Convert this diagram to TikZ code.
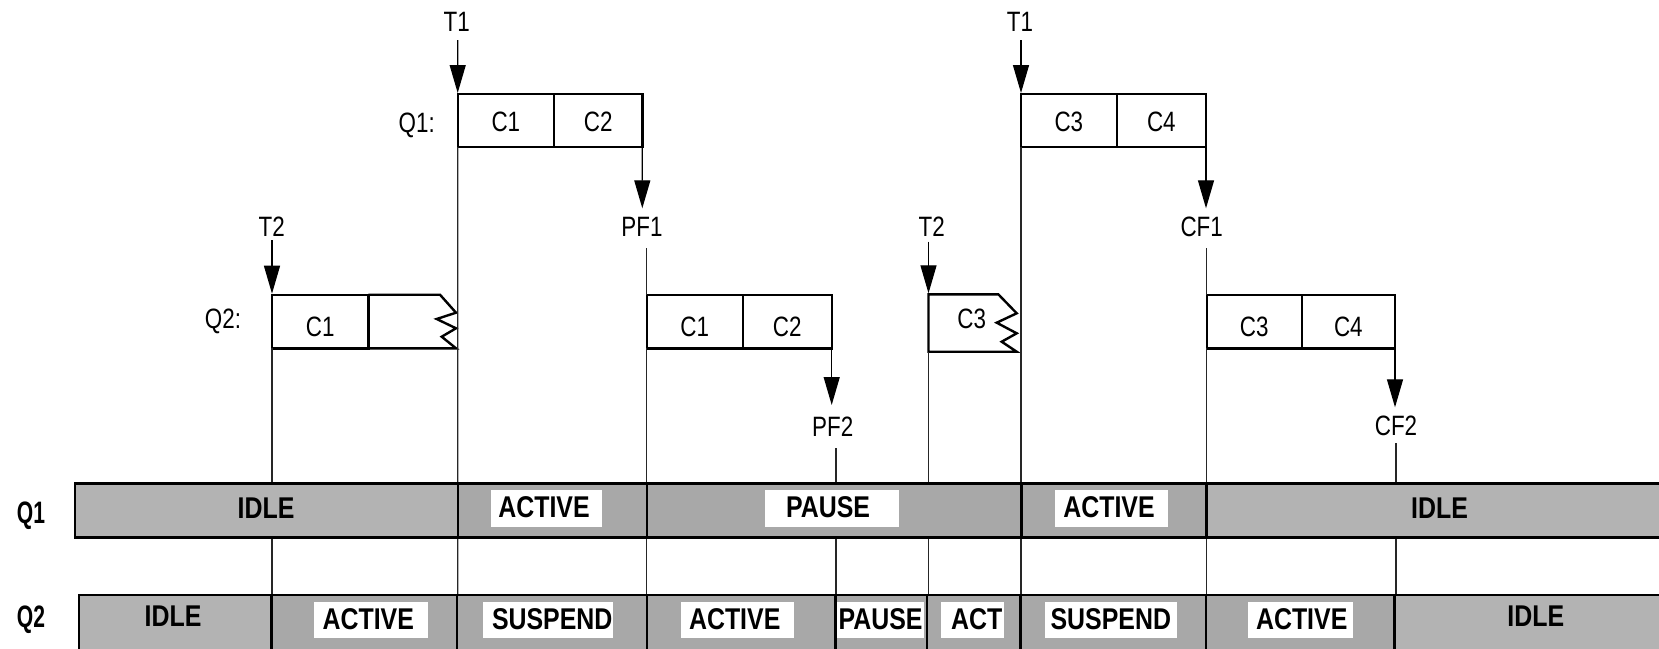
\documentclass[tikz,border=0pt]{standalone}
\usepackage{fontspec}
\setmainfont{Liberation Sans}
\usepackage{graphicx}
\usetikzlibrary{arrows.meta}
\definecolor{idlegray}{RGB}{179,179,179}
\definecolor{busygray}{RGB}{168,168,168}
\newcommand\rtxt[1]{\scalebox{0.8}[1]{#1}}
\newcommand\btxt[1]{\scalebox{0.83}[1]{\bfseries #1}}
\tikzset{
  rt/.style={inner sep=0pt, outer sep=0pt, anchor=base, font=\fontsize{28}{30}\selectfont},
  bt/.style={inner sep=0pt, outer sep=0pt, anchor=base, font=\fontsize{30}{32}\selectfont},
  side/.style={inner sep=0pt, outer sep=0pt, anchor=base, font=\fontsize{31}{33}\selectfont\bfseries},
  cellA/.style={draw, line width=2.4pt, inner sep=0pt, outer sep=0pt, minimum height=53pt,
                text height=22.4pt, text depth=0pt, font=\fontsize{28}{30}\selectfont},
  cellB/.style={cellA, minimum height=53.6pt, text height=29pt},
  boxline/.style={line width=2.4pt, line join=miter},
  arr/.style={line width=1.3pt, -{Triangle[length=28pt,width=16pt]}},
  vline/.style={line width=1.1pt, black!85},
  seg/.style={draw, line width=2.4pt, inner sep=0pt, outer sep=0pt},
  q1seg/.style={seg, minimum height=54pt},
  q2seg/.style={seg, minimum height=70pt},
  wbox/.style={fill=white, inner sep=0pt, outer sep=0pt, minimum height=36.6pt},
}
\begin{document}
\begin{tikzpicture}[x=1pt,y=-1pt]
\useasboundingbox (0,0) rectangle (1659,648);
\fill[white] (0,0) rectangle (1659,648);
\clip (0,0) rectangle (1659,648);

% ---------- queue boxes ----------
\node[cellA, minimum width=96.3pt] (q1a) at (505.85,120.5) {\rtxt{C1}};
\node[cellA, minimum width=88.3pt] (q1b) at (598.15,120.5) {\rtxt{C2}};
\node[cellA, minimum width=95.7pt] (q1c) at (1068.85,120.5) {\rtxt{C3}};
\node[cellA, minimum width=89.3pt] (q1d) at (1161.35,120.5) {\rtxt{C4}};
\node[cellB, minimum width=96.3pt] (q2a) at (320.15,321.5) {\rtxt{C1}};
\node[cellB, minimum width=96pt]   (q2b) at (694.7,321.5) {\rtxt{C1}};
\node[cellB, minimum width=89pt]   (q2c) at (787.2,321.5) {\rtxt{C2}};
\node[cellB, minimum width=95pt]   (q2d) at (1254.2,321.5) {\rtxt{C3}};
\node[cellB, minimum width=93.3pt] (q2e) at (1348.35,321.5) {\rtxt{C4}};

% torn cell after Q2 C1
\draw[boxline] (q2a.north east) -- (440,294.7) -- (456,312.7) -- (436.7,319) -- (456,328.3)
  -- (441.7,336.7) -- (456,348.3) -- (q2a.south east);

% torn C3 box
\coordinate (z3nw) at (928.5,294.3);
\coordinate (z3sw) at (928.5,351.7);
\draw[boxline] (1016.7,351.7) -- (z3sw) -- (z3nw) -- (998.3,294.3) -- (1016.7,313.3)
  -- (996.7,322.7) -- (1016.7,333.3) -- (1001.7,341.7) -- cycle;
\node[rt] (z3t) at (971.7,328.3) {\rtxt{C3}};

% ---------- labels ----------
\node[rt] (t1a) at (456.7,31.7) {\rtxt{T1}};
\node[rt] (t1b) at (1020,31.7) {\rtxt{T1}};
\node[rt] (q1lab) at (416.7,132.7) {\rtxt{Q1:}};
\node[rt] (q2lab) at (223,328.3) {\rtxt{Q2:}};
\node[rt] (t2a) at (271.7,236) {\rtxt{T2}};
\node[rt] (t2b) at (931.7,236) {\rtxt{T2}};
\node[rt] (pf1) at (642,236.7) {\rtxt{PF1}};
\node[rt] (pf2) at (832.7,436.7) {\rtxt{PF2}};
\node[rt] (cf1) at (1201.7,236.7) {\rtxt{CF1}};
\node[rt] (cf2) at (1396,435) {\rtxt{CF2}};

% ---------- arrows ----------
\coordinate (t1a-s) at (457.7,40);
\coordinate (t1b-s) at (1021,40);
\coordinate (t2a-s) at (272,240);
\coordinate (t2b-s) at (928.5,241.7);
\coordinate (pf1-n) at (642.3,208.3);
\coordinate (pf2-n) at (831.7,405);
\coordinate (cf1-n) at (1206,208.3);
\coordinate (cf2-n) at (1395,407.3);
\draw[arr, shorten >=1pt] (t1a-s) -- (q1a.north west);
\draw[arr, shorten >=1pt] (t1b-s) -- (q1c.north west);
\draw[arr, shorten >=1pt] (t2a-s) -- (q2a.north west);
\draw[arr, shorten >=1pt] (t2b-s) -- (z3nw);
\draw[arr] (q1b.south east) -- (pf1-n);
\draw[arr] (q2c.south east) -- (pf2-n);
\draw[arr] (q1d.south east) -- (cf1-n);
\draw[arr] (q2e.south east) -- (cf2-n);

% ---------- thin time lines ----------
\coordinate (pf1-s) at (646.7,248);
\coordinate (pf2-s) at (836,448);
\coordinate (cf1-s) at (1206.7,248);
\coordinate (cf2-s) at (1396,443);
\coordinate (g1) at (272,596);
\coordinate (g2) at (457.7,596);
\coordinate (g3) at (646.7,596);
\coordinate (g4) at (836,596);
\coordinate (g5) at (928.5,596);
\coordinate (g6) at (1021,596);
\coordinate (g7) at (1206.7,596);
\coordinate (g8) at (1396,596);
\draw[vline] (q2a.south west) -- (g1);
\draw[vline] (q1a.south west) -- (g2);
\draw[vline] (pf1-s) -- (q2b.north west);
\draw[vline] (q2b.south west) -- (g3);
\draw[vline] (pf2-s) -- (g4);
\draw[vline] (z3sw) -- (g5);
\draw[vline] (q1c.south west) -- (g6);
\draw[vline] (cf1-s) -- (q2d.north west);
\draw[vline] (q2d.south west) -- (g7);
\draw[vline] (cf2-s) -- (g8);

% ---------- state bars ----------
\node[q1seg, fill=idlegray, minimum width=382.7pt] (b1a) at (266.35,510.3) {};
\node[q1seg, fill=busygray, minimum width=189pt]   (b1b) at (552.2,510.3) {};
\node[q1seg, fill=busygray, minimum width=374.8pt] (b1c) at (834.1,510.3) {};
\node[q1seg, fill=busygray, minimum width=184.8pt] (b1d) at (1113.9,510.3) {};
\node[q1seg, fill=idlegray, minimum width=463.7pt] (b1e) at (1438.15,510.3) {};

\node[q2seg, fill=idlegray, minimum width=192.5pt] (b2a) at (175.25,630) {};
\node[q2seg, fill=busygray, minimum width=185.5pt] (b2b) at (364.25,630) {};
\node[q2seg, fill=busygray, minimum width=189.7pt] (b2c) at (551.85,630) {};
\node[q2seg, fill=busygray, minimum width=188.8pt] (b2d) at (741.1,630) {};
\node[q2seg, fill=busygray, minimum width=91.2pt]  (b2e) at (881.1,630) {};
\node[q2seg, fill=busygray, minimum width=93.8pt]  (b2f) at (973.6,630) {};
\node[q2seg, fill=busygray, minimum width=185.2pt] (b2g) at (1113.1,630) {};
\node[q2seg, fill=busygray, minimum width=188.8pt] (b2h) at (1300.1,630) {};
\node[q2seg, fill=idlegray, minimum width=275.5pt] (b2i) at (1532.25,630) {};

% white label boxes
\node[wbox, minimum width=111pt]   (w1b) at (546.2,508.3) {};
\node[wbox, minimum width=134pt]   (w1c) at (832,508.3) {};
\node[wbox, minimum width=113.3pt] (w1d) at (1111.65,508.3) {};
\node[wbox, minimum width=113.7pt] (w2b) at (370.85,620) {};
\node[wbox, minimum width=130pt]   (w2c) at (548.3,620) {};
\node[wbox, minimum width=113.3pt] (w2d) at (737.35,620) {};
\node[wbox, minimum width=87.6pt]  (w2e) at (880.5,620) {};
\node[wbox, minimum width=63.3pt]  (w2f) at (972.35,620) {};
\node[wbox, minimum width=131.7pt] (w2g) at (1110.85,620) {};
\node[wbox, minimum width=105pt]   (w2h) at (1300.8,620) {};

% bar texts
\node[side] (q1side) at (31,523) {\scalebox{0.68}[1]{Q1}};
\node[side] (q2side) at (31,627) {\scalebox{0.68}[1]{Q2}};

\node[bt] (l1a) at (266,518.5) {\btxt{IDLE}};
\node[bt] (l1b) at (544,517.3) {\btxt{ACTIVE}};
\node[bt] (l1c) at (828,517.3) {\btxt{PAUSE}};
\node[bt] (l1d) at (1109,517.3) {\btxt{ACTIVE}};
\node[bt] (l1e) at (1439.5,518) {\btxt{IDLE}};

\node[bt] (l2a) at (173,626.5) {\btxt{IDLE}};
\node[bt] (l2b) at (368.3,629.3) {\btxt{ACTIVE}};
\node[bt] (l2c) at (552.2,629.3) {\btxt{SUSPEND}};
\node[bt] (l2d) at (734.7,629.3) {\btxt{ACTIVE}};
\node[bt] (l2e) at (880.5,629.3) {\btxt{PAUSE}};
\node[bt] (l2f) at (976.7,629.3) {\btxt{ACT}};
\node[bt] (l2g) at (1110.8,629.3) {\btxt{SUSPEND}};
\node[bt] (l2h) at (1301.7,629.3) {\btxt{ACTIVE}};
\node[bt] (l2i) at (1535.8,626) {\btxt{IDLE}};
\end{tikzpicture}
\end{document}
